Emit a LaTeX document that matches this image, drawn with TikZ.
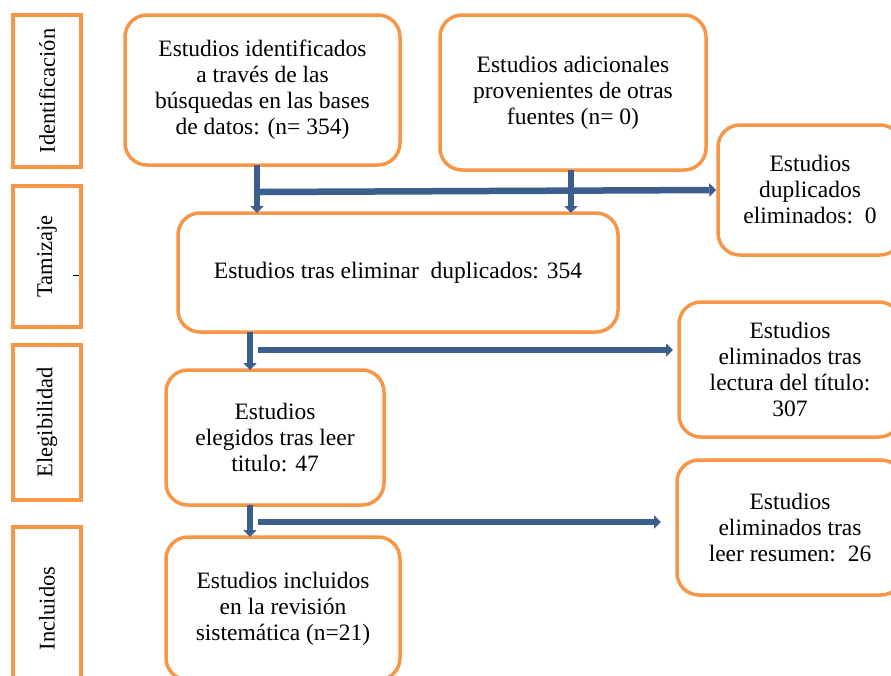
\documentclass[tikz,border=0pt]{standalone}
\usepackage{fontspec}
\setmainfont{Liberation Serif}
\usetikzlibrary{arrows.meta}
\definecolor{orng}{RGB}{247,150,70}
\definecolor{arblue}{RGB}{59,94,140}
\begin{document}
\begin{tikzpicture}[x=1pt,y=-1pt,
  box/.style={draw=orng, line width=3.5pt, rounded corners=22pt, fill=white, align=center, inner sep=0pt, font=\fontsize{23.5}{26}\selectfont},
  side/.style={draw=orng, line width=3.5pt, rotate=90, inner sep=0pt, minimum height=68pt, font=\fontsize{22.5}{24}\selectfont},
  arr/.style={draw=arblue, line width=6.5pt, -{Triangle[width=13pt,length=7pt]}}
]
\fill[white] (0,0) rectangle (891,675);
\clip (0,0) rectangle (891,675);
% side labels
\node[side, minimum width=152pt] (s1) at (47,91) {Identificación};
\node[side, minimum width=141pt] (s2) at (47,256.5) {Tamizaje};
\node[side, minimum width=155pt] (s3) at (47,422.5) {Elegibilidad};
\node[side, minimum width=163pt] (s4) at (47,608.5) {Incluidos};
\coordinate (t1) at (73,275);
\coordinate (t2) at (79,275);
\draw[black, line width=0.8pt] (t1) -- (t2);
% boxes
\node[box, minimum width=275pt, minimum height=150pt] (A) at (262.5,90) {Estudios identificados\\a través de las\\búsquedas en las bases\\de datos: (n= 354)};
\node[box, minimum width=266pt, minimum height=155pt] (B) at (573,92.5) {Estudios adicionales\\provenientes de otras\\fuentes (n= 0)};
\node[box, minimum width=184pt, minimum height=130pt] (C) at (810,190) {Estudios\\duplicados\\eliminados:~~0};
\node[box, minimum width=440pt, minimum height=119pt] (D) at (398,272.5) {Estudios tras eliminar~~duplicados: 354};
\node[box, minimum width=222pt, minimum height=135pt] (E) at (790,369.5) {Estudios\\eliminados tras\\lectura del título:\\307};
\node[box, minimum width=218pt, minimum height=135pt] (F) at (275,437.5) {Estudios\\elegidos tras leer\\titulo: 47};
\node[box, minimum width=226pt, minimum height=135pt] (G) at (790,527.5) {Estudios\\eliminados tras\\leer resumen:~~26};
\node[box, minimum width=234pt, minimum height=143pt] (H) at (283,608.5) {Estudios incluidos\\en la revisión\\sistemática (n=21)};
% connector points
\coordinate (a1) at (257,165);  \coordinate (a2) at (257,213);
\coordinate (b1) at (571,170);  \coordinate (b2) at (571,213);
\coordinate (h1) at (260,192);
\coordinate (d1) at (250,332);  \coordinate (d2) at (250,370);
\coordinate (h2) at (258,350);  \coordinate (e1) at (673,350);
\coordinate (f1) at (250,505);  \coordinate (f2) at (250,537);
\coordinate (h3) at (258,522);  \coordinate (g1) at (661,522);
% arrows
\draw[arr] (a1) -- (a2);
\draw[arr] (b1) -- (b2);
\draw[arr] (h1) -- (C.west);
\draw[arr] (d1) -- (d2);
\draw[arr] (h2) -- (e1);
\draw[arr] (f1) -- (f2);
\draw[arr] (h3) -- (g1);
\end{tikzpicture}
\end{document}
